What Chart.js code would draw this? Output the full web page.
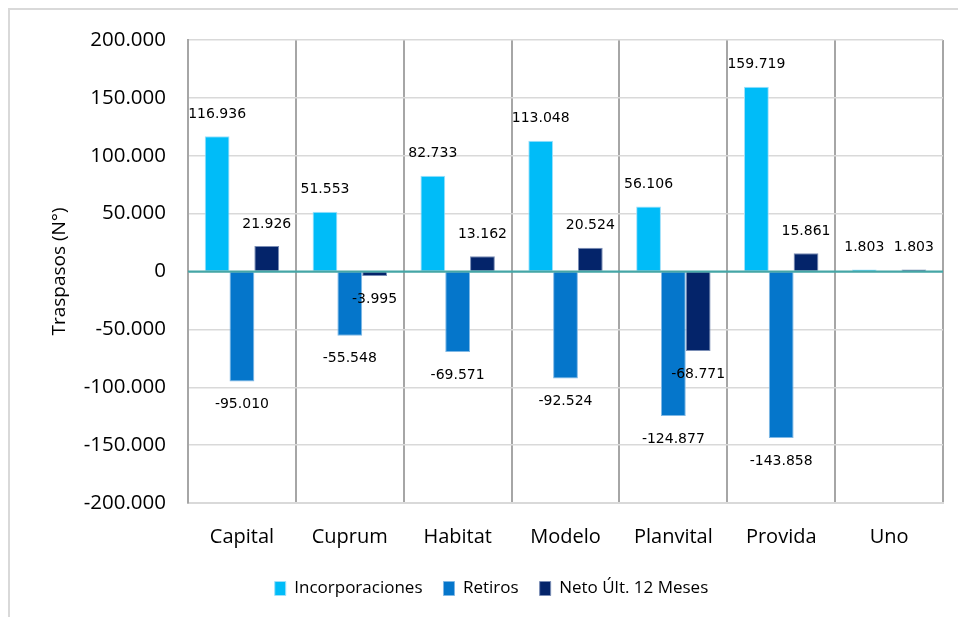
<!DOCTYPE html>
<html>
<head>
<meta charset="utf-8">
<script src="https://cdn.jsdelivr.net/npm/chart.js@4.4.0/dist/chart.umd.min.js"></script>
<style>
  html, body { margin: 0; padding: 0; background: #fff; }
  #wrap { width: 958px; height: 617px; position: relative; }
  #frame { position: absolute; left: 8px; top: 8px; right: 0; bottom: 0;
           border-left: 2px solid #D9D9D9; border-top: 2px solid #D9D9D9; pointer-events: none; }
  canvas { position: absolute; left: 0; top: 0; }
</style>
</head>
<body>
<div id="wrap"><canvas id="chart" width="958" height="617"></canvas><div id="frame"></div></div>
<script>
// data
const categories = ['Capital', 'Cuprum', 'Habitat', 'Modelo', 'Planvital', 'Provida', 'Uno'];
const incorporaciones = [116936, 51553, 82733, 113048, 56106, 159719, 1803];
const retiros = [-95010, -55548, -69571, -92524, -124877, -143858, 0];
const neto = [21926, -3995, 13162, 20524, -68771, 15861, 1803];
const yTicks = [-200000, -150000, -100000, -50000, 0, 50000, 100000, 150000, 200000];

function fmt(v) {
    const s = Math.abs(Math.round(v)).toString().replace(/\B(?=(\d{3})+(?!\d))/g, '.');
    return (v < 0 ? '-' : '') + s;
}

// teal zero line on top of the bars, then the value labels
const barLabels = {
    id: 'barLabels',
    afterDatasetsDraw(chart) {
        const ctx = chart.ctx;
        const area = chart.chartArea;
        const y0 = chart.scales.y.getPixelForValue(0);
        ctx.save();
        ctx.strokeStyle = '#45A6A6';
        ctx.lineWidth = 2;
        ctx.beginPath();
        ctx.moveTo(area.left, y0);
        ctx.lineTo(area.right, y0);
        ctx.stroke();

        ctx.font = '14px "DejaVu Sans"';
        ctx.fillStyle = '#000';
        ctx.textAlign = 'center';
        ctx.textBaseline = 'middle';
        chart.data.datasets.forEach((ds, i) => {
            const meta = chart.getDatasetMeta(i);
            meta.data.forEach((bar, j) => {
                const v = ds.data[j];
                if (v === 0) return;
                const y = v > 0 ? bar.y - 22 : bar.y + 23;
                ctx.fillText(fmt(v), bar.x, y);
            });
        });
        ctx.restore();
    }
};

const ctx = document.getElementById('chart').getContext('2d');
new Chart(ctx, {
    type: 'bar',
    data: {
        labels: categories,
        datasets: [
            { label: 'Incorporaciones', data: incorporaciones, backgroundColor: '#00BCF8', borderColor: '#9FE0FA', borderWidth: 1 },
            { label: 'Retiros', data: retiros, backgroundColor: '#0576CB', borderColor: '#7FB8E5', borderWidth: 1 },
            { label: 'Neto Últ. 12 Meses', data: neto, backgroundColor: '#04246A', borderColor: '#7A8DB5', borderWidth: 1 }
        ]
    },
    options: {
        responsive: false,
        animation: false,
        devicePixelRatio: 1,
        layout: { padding: { left: 40, right: 15, top: 40, bottom: 10 } },
        datasets: { bar: { categoryPercentage: 0.69, barPercentage: 1.0 } },
        plugins: {
            tooltip: { enabled: false },
            legend: {
                position: 'bottom',
                labels: {
                    font: { family: '"Open Sans"', size: 17 },
                    color: '#000',
                    boxWidth: 11,
                    boxHeight: 14,
                    padding: 21
                }
            }
        },
        scales: {
            x: {
                grid: { offset: true, color: '#A6A6A6', lineWidth: 2, drawTicks: false },
                border: { color: '#D9D9D9', width: 2 },
                ticks: { font: { family: '"Open Sans"', size: 20 }, color: '#000', padding: 22 },
                afterFit(s) { s.height = 56; }
            },
            y: {
                min: -200000,
                max: 200000,
                afterBuildTicks(s) { s.ticks = yTicks.map(v => ({ value: v })); },
                grid: {
                    drawTicks: false,
                    color: c => c.tick && c.tick.value === 0 ? '#45A6A6' : '#D9D9D9',
                    lineWidth: 1.5
                },
                border: { color: '#A6A6A6', width: 2 },
                ticks: {
                    font: { family: '"Open Sans"', size: 20.5 },
                    color: '#000',
                    padding: 22,
                    callback: v => fmt(v)
                },
                title: {
                    display: true,
                    text: 'Traspasos (N°)',
                    font: { family: '"Open Sans"', size: 19 },
                    color: '#000',
                    padding: { top: 8, bottom: 0 }
                },
                afterFit(s) { s.width = 148; }
            }
        }
    },
    plugins: [barLabels]
});
</script>
</body>
</html>
